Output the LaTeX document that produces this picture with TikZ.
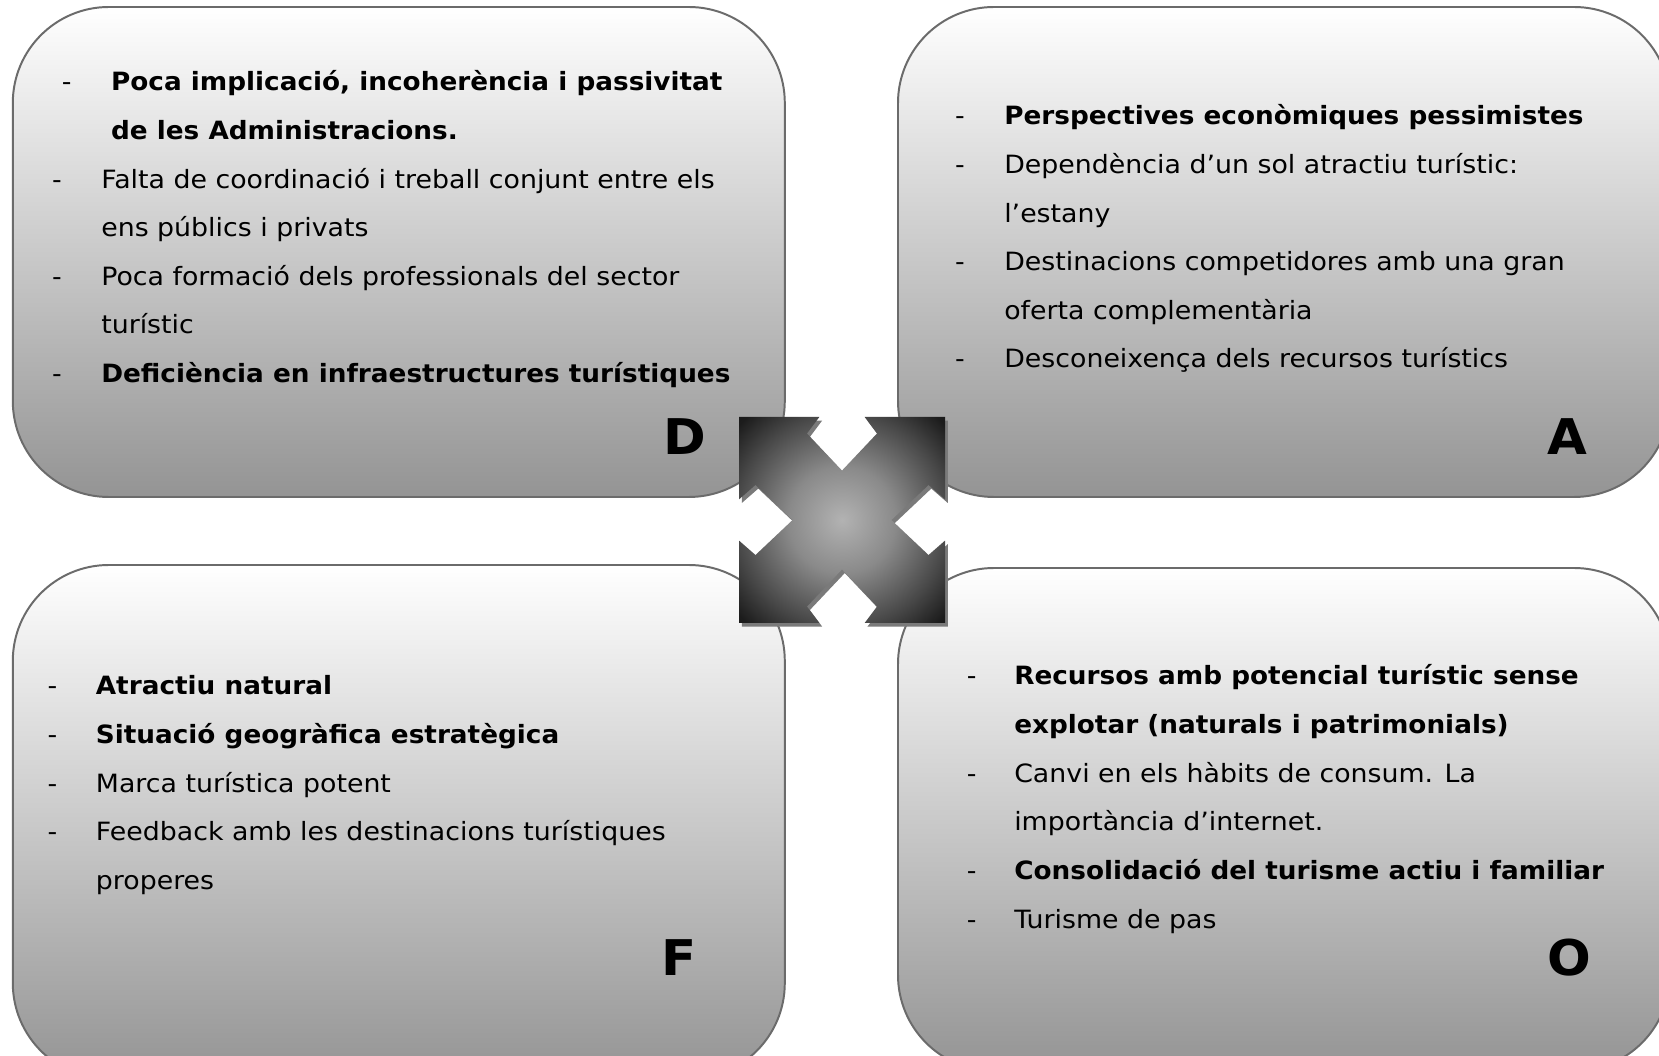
\documentclass[tikz,border=0pt]{standalone}
\usepackage{fontspec}
\setmainfont{DejaVu Sans}[FakeStretch=1.065, BoldFeatures={FakeStretch=1.045}]
\usetikzlibrary{positioning}
\definecolor{SwotRule}{HTML}{6B6B6B}
\definecolor{SwotInk}{HTML}{000000}
\definecolor{SwotShadow}{HTML}{7A7A7A}
\pgfdeclareradialshading{swotcross}{\pgfpoint{0bp}{0bp}}{%
  color(0bp)=(black!30); color(13bp)=(black!46); color(26bp)=(black!72);
  color(34bp)=(black!89); color(50bp)=(black!97)}
\tikzset{
  swot/box/.style={
    draw=SwotRule, line width=1.4pt, rounded corners=2.4cm,
    top color=white, bottom color=black!42,
    minimum width=19.3cm, inner sep=0pt
  },
  swot/item/.style={
    anchor=base west, inner sep=0pt, text=SwotInk,
    font=\fontsize{17.9pt}{34pt}\selectfont
  },
  swot/dash/.style={swot/item, anchor=base},
  swot/letter/.style={
    anchor=base, inner sep=0pt, text=SwotInk,
    font=\fontsize{35pt}{40pt}\selectfont\bfseries
  }
}
\newcommand{\crossoutline}{(-1,1) -- (-0.22,1) -- (-0.34,0.84) -- (0,0.48)
  -- (0.34,0.84) -- (0.22,1) -- (1,1) -- (1,0.2) -- (0.84,0.34) -- (0.48,0)
  -- (0.84,-0.34) -- (1,-0.2) -- (1,-1) -- (0.22,-1) -- (0.34,-0.84)
  -- (0,-0.48) -- (-0.34,-0.84) -- (-0.22,-1) -- (-1,-1) -- (-1,-0.2)
  -- (-0.84,-0.34) -- (-0.48,0) -- (-0.84,0.34) -- (-1,0.2) -- cycle}

\begin{document}
\begin{tikzpicture}
  \clip (0,0) rectangle (41.475,26.375);
  \fill[white] (0,0) rectangle (41.475,26.375);
  % the four quadrants
  \node[swot/box, minimum height=12.25cm] (dbox) at (9.97,20.075) {};
  \node[swot/box, minimum height=12.25cm] (abox) at (32.1,20.075) {};
  \node[swot/box, minimum height=12.85cm] (fbox) at (9.97,5.825) {};
  \node[swot/box, minimum height=12.575cm] (obox) at (32.1,5.8875) {};
  % D
  \foreach \x/\y/\dsh/\txt [count=\i] in {
      2.77/24.10/1/{\bfseries Poca implicació, incoherència i passivitat},
      2.77/22.885/0/{\bfseries de les Administracions.},
      2.525/21.67/1/{Falta de coordinació i treball conjunt entre els},
      2.525/20.455/0/{ens públics i privats},
      2.525/19.24/1/{Poca formació dels professionals del sector},
      2.525/18.025/0/{turístic},
      2.525/16.81/1/{\bfseries Deficiència en infraestructures turístiques}} {
    \node[swot/item] (d\i) at (\x,\y) {\txt};
    \ifnum\dsh=1 \node[swot/dash] at (\x-1.1,\y) {-};\fi
  }
  % A
  \foreach \y/\dsh/\txt [count=\i] in {
      23.25/1/{\bfseries Perspectives econòmiques pessimistes},
      22.035/1/{Dependència d’un sol atractiu turístic:},
      20.82/0/{l’estany},
      19.605/1/{Destinacions competidores amb una gran},
      18.39/0/{oferta complementària},
      17.175/1/{Desconeixença dels recursos turístics}} {
    \node[swot/item] (a\i) at (25.1,\y) {\txt};
    \ifnum\dsh=1 \node[swot/dash] at (24.0,\y) {-};\fi
  }
  % F
  \foreach \y/\dsh/\txt [count=\i] in {
      9.0/1/{\bfseries Atractiu natural},
      7.785/1/{\bfseries Situació geogràfica estratègica},
      6.57/1/{Marca turística potent},
      5.355/1/{Feedback amb les destinacions turístiques},
      4.14/0/{properes}} {
    \node[swot/item] (f\i) at (2.39,\y) {\txt};
    \ifnum\dsh=1 \node[swot/dash] at (1.31,\y) {-};\fi
  }
  % O
  \foreach \y/\dsh/\txt [count=\i] in {
      9.25/1/{\bfseries Recursos amb potencial turístic sense},
      8.035/0/{\bfseries explotar (naturals i patrimonials)},
      6.82/1/{Canvi en els hàbits de consum. La},
      5.605/0/{importància d’internet.},
      4.39/1/{\bfseries Consolidació del turisme actiu i familiar},
      3.175/1/{Turisme de pas}} {
    \node[swot/item] (o\i) at (25.35,\y) {\txt};
    \ifnum\dsh=1 \node[swot/dash] at (24.29,\y) {-};\fi
  }
  \node[swot/letter] (dlet) at (17.125,15.0) {D};
  \node[swot/letter] (alet) at (39.18,15.0) {A};
  \node[swot/letter] (flet) at (16.98,1.99) {F};
  \node[swot/letter] (olet) at (39.23,2.0) {O};
  % central cross, shadow first
  \begin{scope}[shift={(21.12,13.285)}, scale=2.575]
    \fill[SwotShadow] \crossoutline;
  \end{scope}
  \begin{scope}[shift={(21.05,13.375)}, scale=2.575]
    \shade[shading=swotcross] \crossoutline;
  \end{scope}
\end{tikzpicture}
\end{document}
